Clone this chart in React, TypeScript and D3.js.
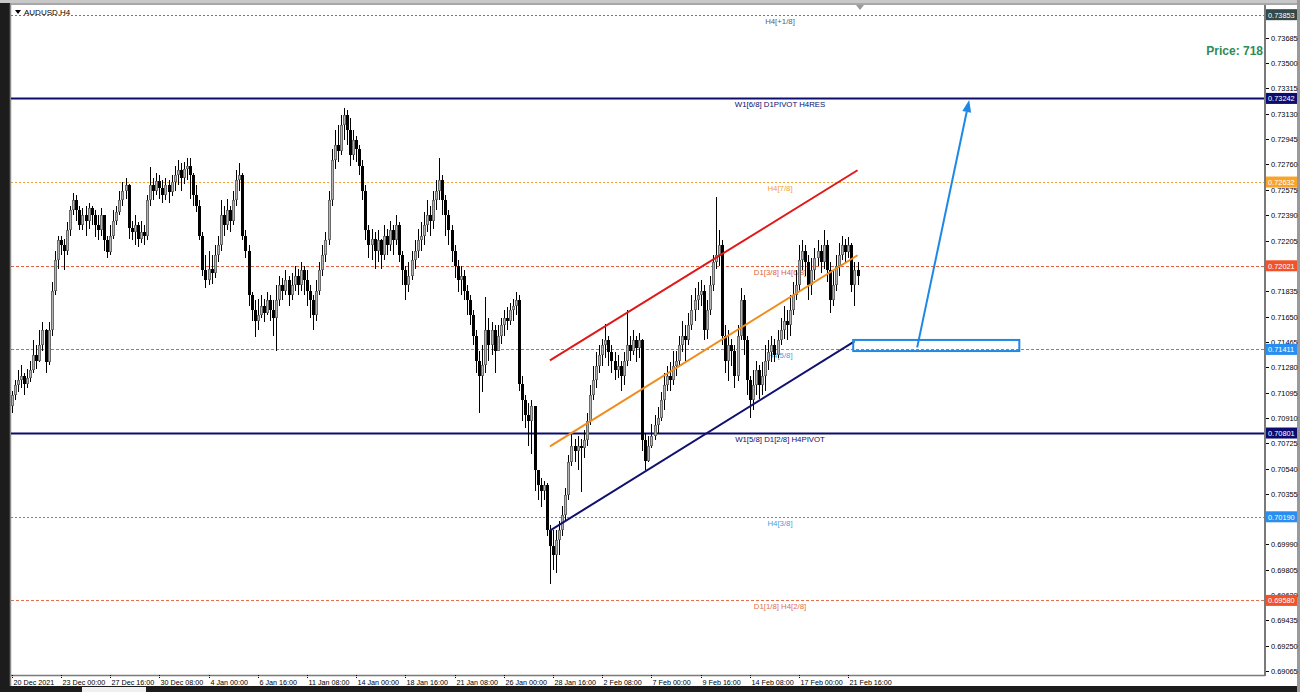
import React from 'react';
import * as d3 from 'd3';

// ---------- DATA (prices x 10000, AUDUSD H4) ----------
const firstOpen = 7100;
const closes = [
  7108,7115,7119,7122,7116,7120,7126,7137,7133,7144,7155,7132,7155,7184,7206,7221,
  7217,7213,7228,7243,7250,7243,7232,7239,7235,7244,7239,7232,7228,7239,7221,7212,
  7224,7235,7241,7250,7257,7261,7230,7227,7232,7222,7227,7224,7250,7261,7257,7264,
  7259,7254,7261,7256,7263,7268,7272,7266,7273,7275,7268,7254,7246,7224,7199,7192,
  7200,7197,7210,7217,7239,7232,7243,7235,7250,7265,7268,7224,7213,7181,7170,7162,
  7166,7173,7168,7177,7170,7164,7177,7188,7184,7192,7181,7188,7195,7188,7199,7192,
  7184,7177,7166,7184,7199,7210,7221,7250,7279,7290,7286,7305,7312,7301,7283,7294,
  7287,7275,7257,7228,7217,7222,7213,7221,7210,7224,7217,7228,7221,7232,7210,7199,
  7188,7195,7206,7213,7221,7224,7232,7239,7235,7250,7257,7265,7250,7239,7228,7213,
  7202,7192,7195,7184,7177,7166,7151,7133,7122,7130,7155,7144,7155,7140,7151,7159,
  7164,7162,7170,7173,7177,7116,7104,7093,7089,7100,7053,7042,7038,7042,7009,6998,
  6991,7002,7009,7020,7035,7059,7071,7067,7071,7069,7075,7089,7108,7119,7129,7137,
  7144,7148,7139,7133,7126,7129,7122,7133,7144,7140,7148,7142,7148,7075,7060,7071,
  7078,7086,7091,7104,7115,7122,7119,7129,7133,7144,7151,7148,7159,7170,7177,7181,
  7184,7155,7170,7188,7205,7210,7217,7151,7133,7144,7140,7122,7151,7177,7148,7119,
  7104,7115,7126,7115,7122,7133,7139,7144,7137,7148,7155,7162,7159,7170,7181,7188,
  7206,7213,7205,7188,7199,7208,7213,7205,7217,7199,7177,7188,7202,7210,7217,7212,7217,7188,7199,7195,
];
const highs = [
  7111,7119,7126,7130,7124,7127,7133,7148,7144,7155,7161,7156,7161,7190,7213,7224,
  7224,7222,7234,7246,7255,7254,7246,7244,7246,7248,7246,7243,7239,7244,7239,7224,
  7232,7243,7246,7257,7263,7266,7262,7235,7239,7234,7235,7232,7254,7274,7266,7270,
  7268,7265,7266,7265,7268,7275,7279,7277,7278,7281,7281,7270,7261,7250,7227,7210,
  7213,7210,7217,7224,7250,7246,7251,7246,7257,7272,7277,7270,7228,7217,7183,7177,
  7178,7181,7178,7183,7181,7177,7188,7195,7193,7199,7195,7197,7202,7200,7205,7202,
  7199,7188,7181,7192,7205,7217,7227,7257,7287,7301,7305,7312,7317,7316,7310,7301,
  7297,7290,7279,7261,7232,7229,7227,7228,7222,7232,7229,7235,7232,7239,7234,7213,
  7202,7205,7213,7221,7229,7234,7241,7250,7246,7257,7265,7281,7268,7254,7243,7232,
  7217,7206,7202,7199,7188,7181,7170,7155,7140,7144,7179,7164,7161,7159,7159,7164,
  7170,7172,7175,7178,7183,7181,7122,7108,7102,7104,7098,7053,7047,7045,7044,7013,
  7009,7009,7016,7027,7040,7064,7080,7076,7078,7076,7082,7095,7115,7129,7139,7144,
  7149,7160,7151,7144,7139,7137,7133,7139,7170,7151,7155,7151,7153,7149,7080,7078,
  7087,7093,7099,7110,7124,7129,7132,7140,7140,7151,7162,7159,7168,7181,7186,7190,
  7192,7188,7177,7195,7210,7252,7228,7221,7159,7155,7149,7144,7159,7186,7181,7151,
  7122,7126,7133,7130,7132,7144,7148,7151,7149,7155,7164,7173,7170,7181,7190,7199,
  7217,7221,7217,7210,7208,7215,7221,7217,7228,7221,7205,7199,7210,7219,7224,7222,7223,7219,7205,7205,
];
const lows = [
  7095,7104,7110,7113,7108,7113,7117,7124,7127,7132,7140,7124,7130,7151,7181,7200,
  7210,7199,7210,7224,7239,7235,7228,7228,7224,7229,7232,7223,7221,7224,7213,7208,
  7210,7222,7232,7239,7246,7251,7222,7221,7217,7216,7219,7217,7221,7246,7250,7254,
  7251,7248,7250,7248,7253,7257,7261,7257,7262,7265,7251,7246,7241,7221,7195,7186,
  7188,7189,7193,7205,7213,7224,7228,7227,7232,7246,7257,7221,7208,7173,7162,7150,
  7155,7164,7161,7166,7162,7151,7140,7173,7177,7181,7173,7177,7184,7181,7184,7181,
  7173,7164,7155,7162,7181,7195,7205,7217,7246,7273,7278,7283,7294,7290,7275,7279,
  7278,7268,7250,7221,7208,7206,7200,7205,7200,7206,7210,7213,7210,7217,7205,7188,
  7177,7183,7192,7200,7208,7213,7217,7227,7224,7229,7243,7250,7239,7224,7217,7205,
  7193,7183,7181,7177,7166,7159,7144,7124,7095,7110,7124,7133,7137,7124,7140,7145,
  7151,7155,7159,7162,7166,7111,7089,7084,7071,7065,7038,7031,7026,7031,7005,6970,
  6980,6978,6991,7005,7016,7031,7056,7059,7053,7037,7062,7071,7086,7104,7113,7124,
  7129,7135,7129,7124,7119,7120,7111,7115,7129,7133,7137,7132,7135,7067,7053,7059,
  7069,7075,7080,7089,7097,7111,7111,7115,7122,7129,7139,7133,7144,7155,7162,7170,
  7173,7148,7149,7166,7184,7200,7202,7144,7124,7118,7129,7113,7118,7148,7137,7108,
  7091,7097,7108,7105,7108,7111,7126,7132,7132,7135,7144,7149,7148,7151,7166,7177,
  7183,7199,7195,7177,7181,7192,7202,7197,7200,7190,7168,7173,7184,7195,7206,7205,7208,7183,7173,7188,
];

const timeLabelBars = [0,16,32,48,64,80,96,112,128,144,160,176,192,208,224,240,256,272];
const timeLabels = [
  '20 Dec 2021','23 Dec 00:00','27 Dec 16:00','30 Dec 08:00','4 Jan 00:00','6 Jan 16:00',
  '11 Jan 08:00','14 Jan 00:00','18 Jan 16:00','21 Jan 08:00','26 Jan 00:00','28 Jan 16:00',
  '2 Feb 08:00','7 Feb 00:00','9 Feb 16:00','14 Feb 08:00','17 Feb 00:00','21 Feb 16:00',
];
// visible price-scale labels (0.72020 and 0.70170 sit under the level boxes)
const priceTicks = [
  '0.73685','0.73500','0.73315','0.73130','0.72945','0.72760','0.72575','0.72390','0.72205',
  '0.71835','0.71650','0.71465','0.71280','0.71095','0.70910','0.70725','0.70540',
  '0.70355','0.69990','0.69805','0.69620','0.69435','0.69250','0.69065',
];

const levelPrices = [0.73853, 0.73242, 0.72632, 0.72021, 0.71411, 0.70801, 0.70190, 0.69580];
const levelNames = ['H4[+1/8]', 'W1[6/8] D1PIVOT H4RES', 'H4[7/8]', 'D1[3/8] H4[6/8]', 'H4[5/8]',
  'W1[5/8] D1[2/8] H4PIVOT', 'H4[3/8]', 'D1[1/8] H4[2/8]'];

// trend channel drawings: [bar, price]
const redLine = [[175, 0.71331], [275, 0.72718]];
const orangeLine = [[175, 0.70703], [275, 0.72098]];
const navyLine = [[175, 0.70089], [274, 0.71470]];
const zoneBox = { bar0: 273.6, bar1: 327.6, top: 0.71480, bottom: 0.71399 };
const arrowPts = [[294.4, 0.71426], [311.3, 0.73230]];
const priceText = 'Price: 718';

// ---------- STYLES ----------
const levelStyles = [
  { color: '#6b7b7b', dash: '2,2', w: 1, box: '#33494a', text: '#55636a' },
  { color: '#0c0c6e', dash: '', w: 2, box: '#0c0c6e', text: '#0c0c6e' },
  { color: '#f0a030', dash: '2,2', w: 1, box: '#f7a428', text: '#f0a030' },
  { color: '#e2603c', dash: '3,2', w: 1, box: '#f0522a', text: '#e2603c' },
  { color: '#3a98e0', dash: '3,2', w: 1, box: '#2a8ef0', text: '#4aa0e0' },
  { color: '#0c0c6e', dash: '', w: 2, box: '#0c0c6e', text: '#0c0c6e' },
  { color: '#3a98e0', dash: '2,2', w: 1, box: '#2a8ef0', text: '#4aa0e0' },
  { color: '#e2704c', dash: '3,2', w: 1, box: '#f0522a', text: '#e2704c' },
];

const W = 1300;
const HT = 692;
const FONT = '"Liberation Sans", Arial, sans-serif';
const PL = 11, PR = 1265, PT = 5, PB = 675;

export default function App() {
  const x = d3.scaleLinear().domain([0, 272]).range([11.7, 848.3]);
  const y = d3.scaleLinear().domain([0.69065, 0.73685]).range([671, 37.7]);

  const bars = closes.map((c, i) => {
    const o = i === 0 ? firstOpen : closes[i - 1];
    const h = Math.max(highs[i], o, c);
    const l = Math.min(lows[i], o, c);
    return { i, o: o / 1e4, h: h / 1e4, l: l / 1e4, c: c / 1e4 };
  });

  const line = d3.line<number[]>().x(d => x(d[0])).y(d => y(d[1]));

  const ax = x(arrowPts[0][0]), ay = y(arrowPts[0][1]);
  const bx = x(arrowPts[1][0]), by = y(arrowPts[1][1]);
  const ang = Math.atan2(by - ay, bx - ax);
  const headLen = 12, headW = 4.5;
  const hx = bx - headLen * Math.cos(ang), hy = by - headLen * Math.sin(ang);
  const head = `M${bx},${by} L${hx + headW * Math.sin(ang)},${hy - headW * Math.cos(ang)} L${hx - headW * Math.sin(ang)},${hy + headW * Math.cos(ang)} Z`;

  return (
    <svg width={W} height={HT} style={{ position: 'absolute', left: 0, top: 0, background: '#fff' }}
      fontFamily={FONT}>
      <defs>
        <clipPath id="plot"><rect x={PL} y={PT} width={PR - PL} height={PB - PT} /></clipPath>
      </defs>
      {/* window frame */}
      <rect x={0} y={0} width={W} height={HT} fill="#fff" />
      <rect x={0} y={0} width={10} height={HT} fill="#1c1c1c" />
      <rect x={0} y={0} width={W} height={3} fill="#c8c8c8" />
      <rect x={0} y={686} width={W} height={6} fill="#1c1c1c" />
      <rect x={82} y={687} width={64} height={5} fill="#f0f0f0" />
      <rect x={1297} y={0} width={3} height={HT} fill="#9a9a9a" />
      <line x1={10} x2={1297} y1={4} y2={4} stroke="#8a8a8a" strokeWidth={1.5} />
      <line x1={10.5} x2={10.5} y1={4} y2={686} stroke="#8a8a8a" strokeWidth={1.5} />

      <g clipPath="url(#plot)">
        {/* level lines */}
        {levelPrices.map((p, k) => (
          <line key={'lv' + k} x1={PL} x2={PR} y1={Math.round(y(p)) + 0.5} y2={Math.round(y(p)) + 0.5}
            stroke={levelStyles[k].color} strokeWidth={levelStyles[k].w}
            strokeDasharray={levelStyles[k].dash || undefined} />
        ))}
        {levelPrices.map((p, k) => (
          <text key={'lt' + k} x={780} y={y(p) + 9} textAnchor="middle" fontSize={7.8}
            fill={levelStyles[k].text}>{levelNames[k]}</text>
        ))}
        {/* candles */}
        {bars.map(b => {
          const cx = Math.round(x(b.i));
          const bull = b.c >= b.o;
          const top = Math.round(y(Math.max(b.o, b.c))), bot = Math.round(y(Math.min(b.o, b.c)));
          return (
            <g key={'b' + b.i}>
              <line x1={cx + 0.5} x2={cx + 0.5} y1={Math.round(y(b.h))} y2={Math.round(y(b.l))}
                stroke="#000" strokeWidth={1} />
              <rect x={cx - 1} y={top} width={3} height={Math.max(1, bot - top)}
                fill={bull ? '#6a6a6a' : '#000'} />
              {bull && <line x1={cx + 0.5} x2={cx + 0.5} y1={top + 1} y2={bot - 1} stroke="#b4b4b4" strokeWidth={1} />}
            </g>
          );
        })}
        {/* channel */}
        <path d={line(redLine as any) as string} stroke="#e01818" strokeWidth={2} fill="none" />
        <path d={line(orangeLine as any) as string} stroke="#f08c1a" strokeWidth={2} fill="none" />
        <path d={line(navyLine as any) as string} stroke="#10106e" strokeWidth={2} fill="none" />
        {/* zone */}
        <rect x={x(zoneBox.bar0)} y={y(zoneBox.top)} width={x(zoneBox.bar1) - x(zoneBox.bar0)}
          height={y(zoneBox.bottom) - y(zoneBox.top)} fill="none" stroke="#1e88e5" strokeWidth={2} />
        {/* arrow */}
        <line x1={ax} y1={ay} x2={hx} y2={hy} stroke="#1e88e5" strokeWidth={2} />
        <path d={head} fill="#1e88e5" />
        {/* price text */}
        <text x={1263} y={55} textAnchor="end" fontSize={12} fontWeight="bold" fill="#2e8b57">{priceText}</text>
      </g>

      {/* title */}
      <path d="M15,10 L21,10 L18,14 Z" fill="#000" />
      <text x={24} y={15} fontSize={8} fill="#000">AUDUSD,H4</text>
      {/* chart shift marker */}
      <path d="M856,5 L864,5 L860,10 Z" fill="#9a9a9a" />

      {/* axes */}
      <line x1={PR} x2={PR} y1={PT} y2={PB + 1} stroke="#7a7a7a" strokeWidth={2} />
      <line x1={PL} x2={PR} y1={PB + 0.5} y2={PB + 0.5} stroke="#7a7a7a" strokeWidth={1.5} />
      {priceTicks.map((t, k) => {
        const yy = y(+t);
        return (
          <g key={'pt' + k}>
            <line x1={PR + 1} x2={PR + 4} y1={Math.round(yy) + 0.5} y2={Math.round(yy) + 0.5} stroke="#000" />
            <text x={PR + 6} y={yy + 3} fontSize={7.4} fill="#000">{t}</text>
          </g>
        );
      })}
      {timeLabelBars.map((bi, k) => {
        const xx = Math.round(x(bi)) + 0.5;
        return (
          <g key={'tl' + k}>
            <line x1={xx} x2={xx} y1={PB} y2={PB + 4} stroke="#000" strokeDasharray="1,1" />
            <text x={xx + 1} y={685} fontSize={7.2} fill="#000">{timeLabels[k]}</text>
          </g>
        );
      })}
      {/* level price boxes */}
      {levelPrices.map((p, k) => (
        <g key={'lb' + k}>
          <rect x={PR + 1} y={y(p) - 5.5} width={31} height={11} fill={levelStyles[k].box} />
          <text x={PR + 3} y={y(p) + 3} fontSize={7.4} fill="#fff">{p.toFixed(5)}</text>
        </g>
      ))}
    </svg>
  );
}
